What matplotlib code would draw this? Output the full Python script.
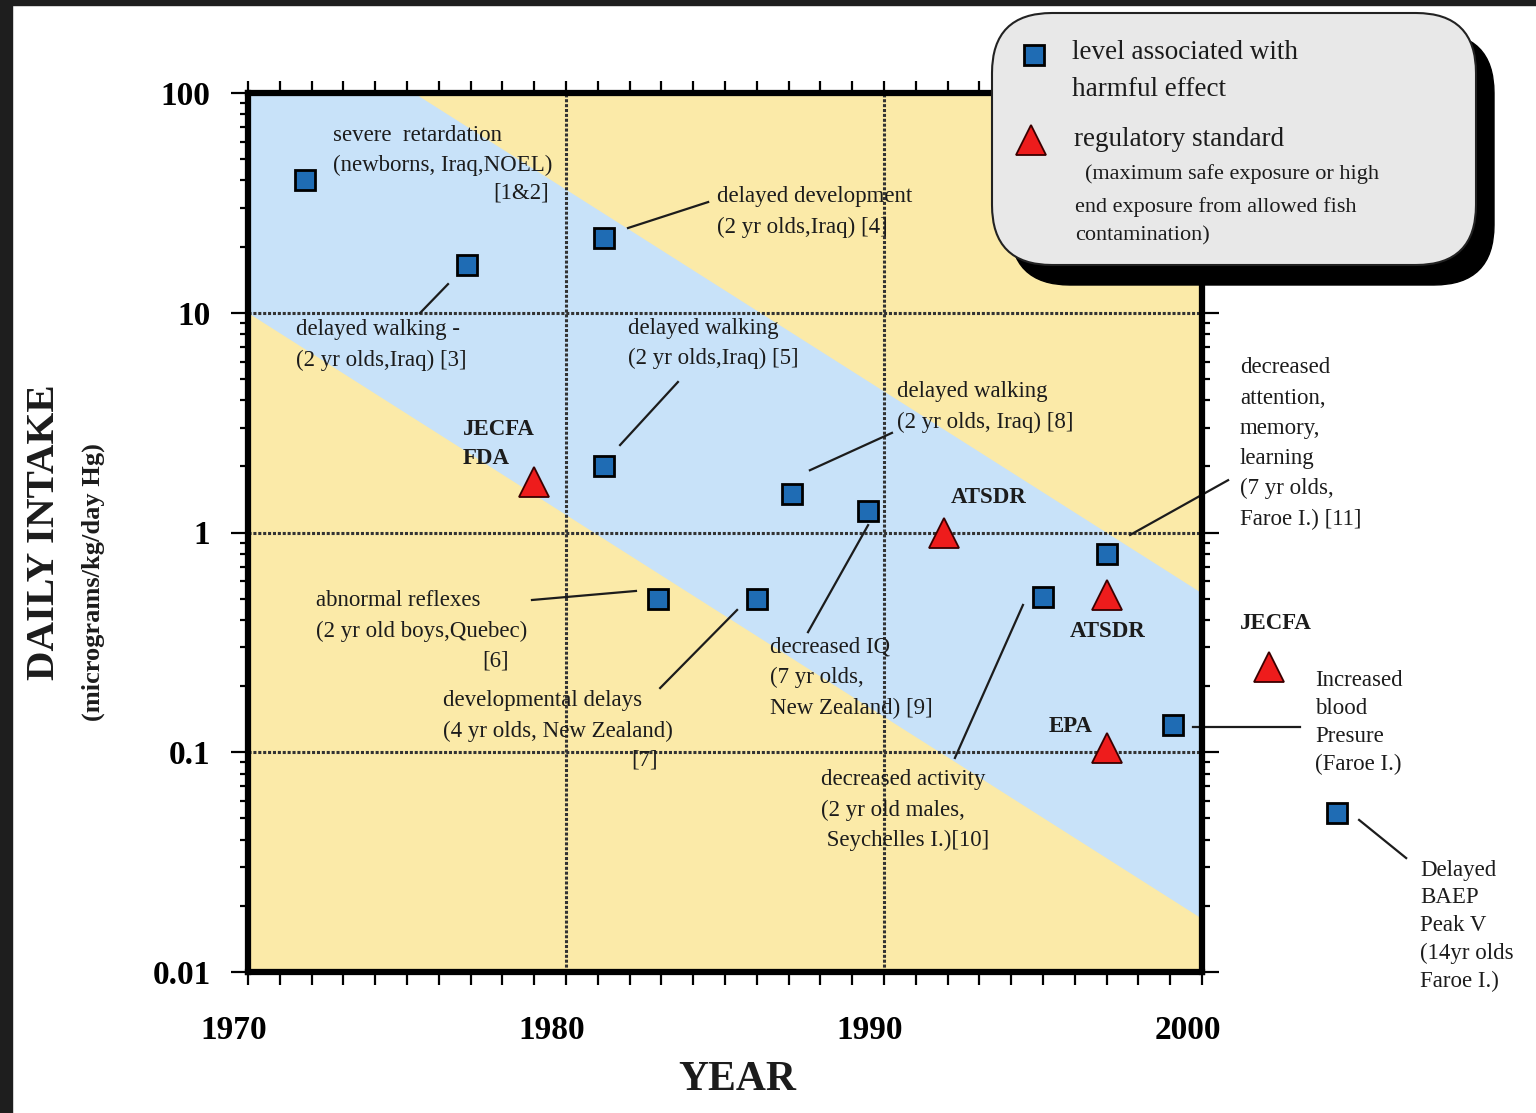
import matplotlib
matplotlib.use("Agg")
import matplotlib.pyplot as plt
import numpy as np
from matplotlib.patches import FancyBboxPatch, Rectangle
from matplotlib.lines import Line2D
from matplotlib.ticker import LogLocator, NullFormatter
from matplotlib.transforms import ScaledTranslation

plt.rcParams['font.family'] = ['Liberation Serif', 'DejaVu Serif']

# levels associated with harmful effect (blue squares)
effect_year = [1971.8, 1976.9, 1981.2, 1981.2, 1987.1, 1989.5, 1982.9, 1986.0, 1995.0, 1997.0, 1999.1, 2004.25]
effect_dose = [40, 16.5, 22, 2.0, 1.5, 1.25, 0.5, 0.5, 0.51, 0.8, 0.133, 0.053]

# regulatory standards (red triangles)
std_year = [1979.0, 1991.9, 1997.0, 1997.0, 2002.1]
std_dose = [1.7, 1.0, 0.52, 0.105, 0.245]

# blue band, edges at start and end of the axis
band_year = [1970, 2000]
band_low = [10, 0.0175]
band_high = [302, 0.53]

year_ticks = [1970, 1980, 1990, 2000]
dose_ticks = [0.01, 0.1, 1, 10, 100]
dose_labels = ['0.01', '0.1', '1', '10', '100']

TXT = '#1c1c1c'

fig = plt.figure(figsize=(15.36, 11.13), dpi=100)
ax = fig.add_axes([248/1536, 141/1113, 954/1536, 879/1113])
ax.set_yscale('log')
ax.set_xlim(1970, 2000)
ax.set_ylim(0.01, 100)
ax.set_facecolor('#fbeaa8')
ax.fill_between(band_year, band_low, band_high, color='#c8e2f9', lw=0, zorder=0)

ax.set_xticks(year_ticks)
ax.set_xticklabels([str(y) for y in year_ticks])
ax.set_xticks(np.arange(1970, 2001), minor=True)
ax.set_yticks(dose_ticks)
ax.set_yticklabels(dose_labels)
ax.yaxis.set_minor_locator(LogLocator(base=10, subs=np.arange(2, 10)))
ax.yaxis.set_minor_formatter(NullFormatter())

ax.tick_params(axis='x', which='both', direction='out', length=9, width=1.6,
               top=True, bottom=True, pad=22, labelsize=24)
ax.tick_params(axis='y', which='major', direction='out', length=12, width=1.6,
               left=True, right=True, pad=15, labelsize=24)
ax.tick_params(axis='y', which='minor', direction='out', length=6, width=1.6,
               left=True, right=True)
shift = ScaledTranslation(-0.14, 0, fig.dpi_scale_trans)
for lab in ax.get_xticklabels():
    lab.set_fontweight('bold')
    lab.set_transform(lab.get_transform() + shift)
for lab in ax.get_yticklabels():
    lab.set_fontweight('bold')

ax.grid(True, which='major', color='#333333', lw=2.2, ls=(0, (1, 0.6)), zorder=1)
ax.set_axisbelow(True)
for s in ax.spines.values():
    s.set_linewidth(4.5)
    s.set_zorder(6)

ax.plot(effect_year, effect_dose, 's', ms=14, mfc='#1f6cb4', mec='black', mew=2,
        clip_on=False, zorder=5)
ax.plot(std_year, std_dose, '^', ms=22, mfc='#ee1c1c', mec='#3a0000', mew=1.3,
        clip_on=False, zorder=5)


def note(x, y, s, bold=False, ha='left', ls=1.58):
    ax.text(x, y, s, fontsize=16.5, color=TXT, ha=ha, va='center', linespacing=ls,
            fontweight='bold' if bold else 'normal', clip_on=False, zorder=7)


def lead(x0, y0, x1, y1):
    ax.plot([x0, x1], [y0, y1], color=TXT, lw=1.6, clip_on=False, zorder=4)


note(1972.67, 54.7, 'severe  retardation\n(newborns, Iraq,NOEL)')
note(1979.47, 35.1, '[1&2]', ha='right')
note(1984.75, 28.7, 'delayed development\n(2 yr olds,Iraq) [4]')
lead(1981.95, 24.3, 1984.47, 31.9)
note(1971.51, 7.13, 'delayed walking -\n(2 yr olds,Iraq) [3]')
lead(1975.41, 9.97, 1976.29, 13.5)
note(1981.95, 7.25, 'delayed walking\n(2 yr olds,Iraq) [5]')
lead(1981.70, 2.50, 1983.52, 4.84)
note(1976.76, 2.53, 'JECFA\nFDA', bold=True, ls=1.5)
note(1990.41, 3.73, 'delayed walking\n(2 yr olds, Iraq) [8]')
lead(1987.67, 1.92, 1990.25, 2.84)
note(1993.30, 1.44, 'ATSDR', bold=True, ha='center')
note(2001.19, 2.54, 'decreased\nattention,\nmemory,\nlearning\n(7 yr olds,\nFaroe I.) [11]', ls=1.57)
lead(1997.74, 0.975, 2000.82, 1.73)
note(1972.14, 0.417, 'abnormal reflexes\n(2 yr old boys,Quebec)')
note(1977.77, 0.260, '[6]', ha='center')
lead(1978.93, 0.493, 1982.20, 0.542)
note(1976.13, 0.146, 'developmental delays\n(4 yr olds, New Zealand)')
note(1982.48, 0.0923, '[7]', ha='center')
lead(1982.96, 0.196, 1985.38, 0.444)
note(1986.42, 0.218, 'decreased IQ\n(7 yr olds,\nNew Zealand) [9]')
lead(1987.61, 0.352, 1989.50, 1.08)
note(1988.02, 0.0546, 'decreased activity\n(2 yr old males,\n Seychelles I.)[10]')
lead(1992.23, 0.0942, 1994.37, 0.468)
note(1997.04, 0.356, 'ATSDR', bold=True, ha='center')
note(1995.88, 0.1316, 'EPA', bold=True, ha='center')
note(2002.33, 0.384, 'JECFA', bold=True, ha='center')
note(2003.55, 0.1365, 'Increased\nblood\nPresure\n(Faroe I.)', ls=1.42)
lead(1999.72, 0.130, 2003.08, 0.130)
note(2006.86, 0.0162, 'Delayed\nBAEP\nPeak V\n(14yr olds\nFaroe I.)', ls=1.42)
lead(2004.94, 0.0492, 2006.42, 0.033)

# axis titles
fig.text(737/1536, 1 - 1080/1113, 'YEAR', ha='center', va='center', fontsize=30,
         fontweight='bold', color=TXT)
fig.text(45/1536, 1 - 532/1113, 'DAILY INTAKE', ha='center', va='center', rotation=90,
         fontsize=29.5, fontweight='bold', color=TXT)
fig.text(93/1536, 1 - 582/1113, '(micrograms/kg/day Hg)', ha='center', va='center',
         rotation=90, fontsize=19, fontweight='bold', color=TXT)

# legend box with shadow (inches from bottom-left)
T = fig.dpi_scale_trans
fig.add_artist(FancyBboxPatch((10.10, 8.28), 4.84, 2.52,
                              boxstyle='round,pad=0,rounding_size=0.6',
                              transform=T, fc='black', ec='black', zorder=8))
fig.add_artist(FancyBboxPatch((9.92, 8.48), 4.84, 2.52,
                              boxstyle='round,pad=0,rounding_size=0.6',
                              transform=T, fc='#e8e8e8', ec='#222222', lw=1.5, zorder=9))
fig.add_artist(Line2D([10.34], [10.58], marker='s', ms=14, mfc='#1f6cb4', mec='black',
                      mew=2, transform=T, zorder=10))
fig.add_artist(Line2D([10.31], [9.73], marker='^', ms=22, mfc='#ee1c1c', mec='#3a0000',
                      mew=1.3, transform=T, zorder=10))
fig.text(10.72, 10.42, 'level associated with\nharmful effect', transform=T, fontsize=19.5,
         va='center', linespacing=1.63, color=TXT, zorder=10)
fig.text(10.74, 9.73, 'regulatory standard', transform=T, fontsize=19.5,
         va='center', color=TXT, zorder=10)
fig.text(10.85, 9.39, '(maximum safe exposure or high', transform=T, fontsize=16,
         va='center', color=TXT, zorder=10)
fig.text(10.75, 8.92, 'end exposure from allowed fish\ncontamination)', transform=T,
         fontsize=16, va='center', linespacing=1.67, color=TXT, zorder=10)

# dark frame at top and left
fig.add_artist(Rectangle((0, 0), 0.12, 11.13, transform=T, color='#1e1e1e', zorder=20))
fig.add_artist(Rectangle((0, 11.08), 15.36, 0.05, transform=T, color='#1e1e1e', zorder=20))

fig.savefig('out.png', dpi=100)
